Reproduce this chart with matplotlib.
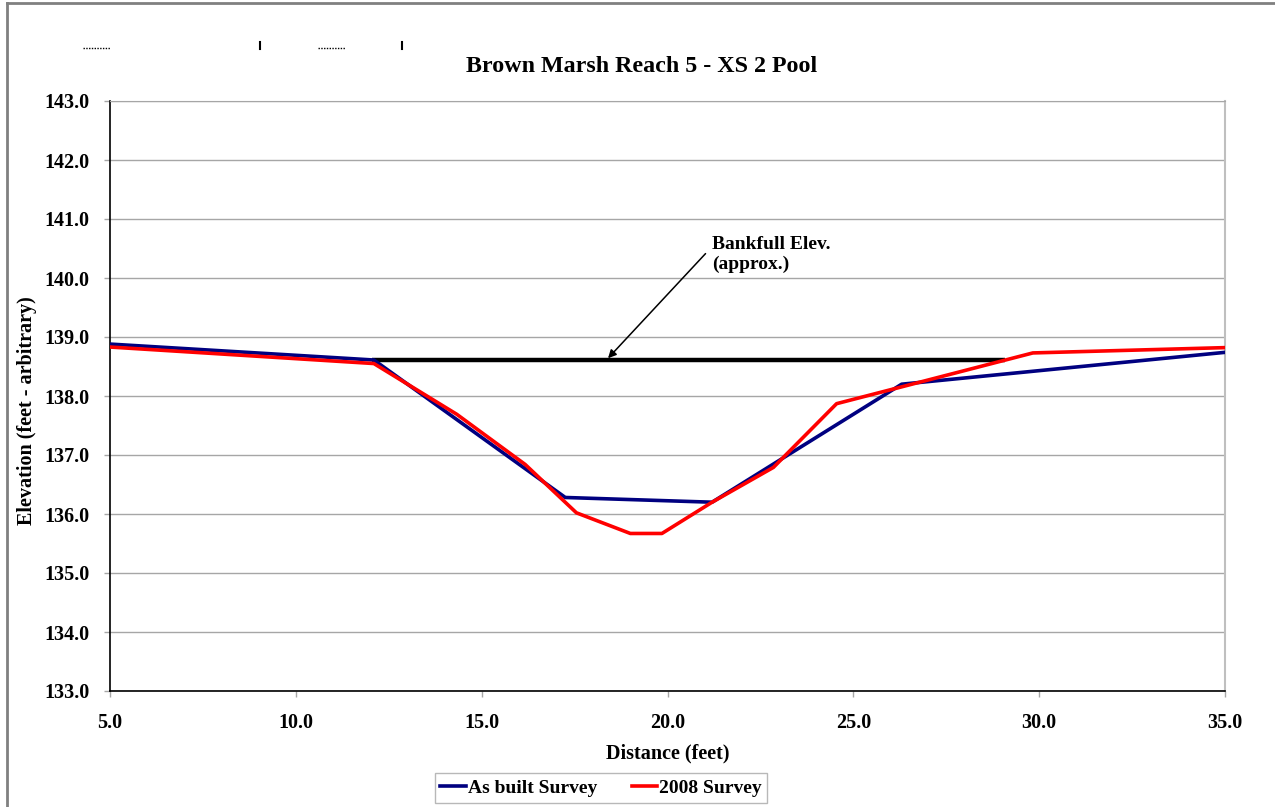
import matplotlib.pyplot as plt
import matplotlib
from matplotlib.lines import Line2D

matplotlib.rcParams['font.family'] = ['Liberation Serif', 'DejaVu Serif']
matplotlib.rcParams['font.weight'] = 'bold'
matplotlib.rcParams['axes.labelweight'] = 'bold'
matplotlib.rcParams['axes.titleweight'] = 'bold'
matplotlib.rcParams['font.size'] = 14

# data
asbuilt_x = [5.0, 12.1, 17.25, 21.2, 26.3, 35.0]
asbuilt_y = [138.88, 138.61, 136.28, 136.2, 138.2, 138.74]

survey08_x = [5.0, 12.1, 14.33, 16.17, 17.55, 19.0, 19.85, 21.2, 22.85, 24.55, 29.83, 35.0]
survey08_y = [138.83, 138.55, 137.69, 136.84, 136.02, 135.67, 135.67, 136.2, 136.79, 137.87, 138.73, 138.82]

bankfull_x = [12.05, 29.08]
bankfull_y = [138.61, 138.61]

xticks = [5, 10, 15, 20, 25, 30, 35]
yticks = [133, 134, 135, 136, 137, 138, 139, 140, 141, 142, 143]

W, H = 1275, 807
fig = plt.figure(figsize=(W / 100, H / 100), dpi=100)
ax = fig.add_axes([110 / W, 1 - 691 / H, (1225 - 110) / W, (691 - 101) / H])

ax.plot(bankfull_x, bankfull_y, color='black', lw=3.2, solid_capstyle='butt', zorder=3)
ax.plot(asbuilt_x, asbuilt_y, color='#000080', lw=2.6, label='As built Survey', zorder=4)
ax.plot(survey08_x, survey08_y, color='#FF0000', lw=2.6, label='2008 Survey', zorder=5)

ax.set_xlim(5, 35)
ax.set_ylim(133, 143)
ax.set_xticks(xticks)
ax.set_yticks(yticks)
ax.set_xticklabels(['%.1f' % v for v in xticks])
ax.set_yticklabels(['%.1f' % v for v in yticks])
ax.tick_params(labelsize=14.5)
ax.yaxis.grid(True, color='#A6A6A6', lw=1)
ax.set_axisbelow(True)
ax.tick_params(axis='both', direction='out', length=4.5, color='#A6A6A6', width=1)
ax.tick_params(axis='y', pad=10)
ax.tick_params(axis='x', pad=11)

ax.spines['left'].set_color('black')
ax.spines['bottom'].set_color('black')
ax.spines['right'].set_color('#BFBFBF')
ax.spines['top'].set_color('#A6A6A6')
for s in ['left', 'bottom']:
    ax.spines[s].set_linewidth(1.2)
ax.spines['right'].set_linewidth(1.5)

ax.set_title('Brown Marsh Reach 5 - XS 2 Pool', fontsize=17.3, fontweight='bold',
             x=(642 - 110) / 1115, pad=21)
ax.set_xlabel('Distance (feet)', fontsize=14.5, fontweight='bold', labelpad=8)
ax.set_ylabel('Elevation (feet - arbitrary)', fontsize=14.5, fontweight='bold')
ax.yaxis.set_label_coords(-0.0655, 0.475)

ax.annotate('Bankfull Elev.\n(approx.)', xy=(18.4, 138.64), xytext=(21.2, 140.09),
            fontsize=14, fontweight='bold', ha='left', va='bottom', linespacing=1.15,
            arrowprops=dict(arrowstyle='-|>', color='black', lw=1.1,
                            mutation_scale=12, shrinkA=4, shrinkB=0,
                            relpos=(0.0, 0.72)))

fig.legend(loc='center', bbox_to_anchor=(601 / W, 1 - 788 / H), ncol=2,
           frameon=True, fancybox=False, edgecolor='#A6A6A6', fontsize=14,
           handlelength=1.3, handletextpad=0.1, columnspacing=1.8,
           borderpad=0.3)

# outer chart frame and stray marks at the top
grey = '#808080'
fig.add_artist(Line2D([7 / W, 7 / W], [0, 1 - 3 / H], color=grey, lw=2))
fig.add_artist(Line2D([7 / W, 1], [1 - 3 / H, 1 - 3 / H], color=grey, lw=2))
for x0, x1 in [(83, 110), (318, 345)]:
    fig.add_artist(Line2D([x0 / W, x1 / W], [1 - 48 / H] * 2, color='black', lw=1, ls=(0, (1, 1))))
for xv in [260, 402]:
    fig.add_artist(Line2D([xv / W] * 2, [1 - 49 / H, 1 - 42 / H], color='black', lw=1.5))

fig.savefig('out.png', dpi=100)
